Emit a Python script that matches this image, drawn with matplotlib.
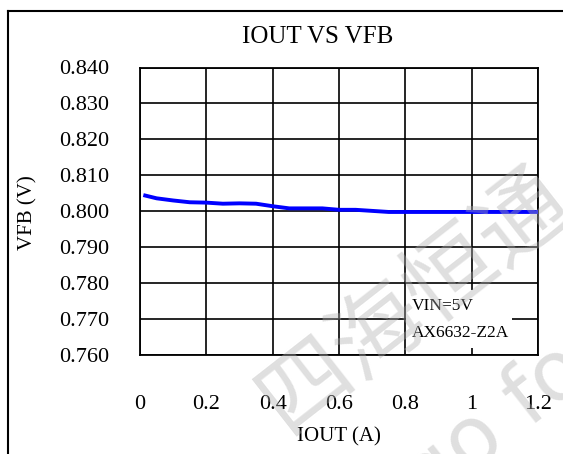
import matplotlib
matplotlib.use("Agg")
import matplotlib.pyplot as plt
from matplotlib.patches import Rectangle
from matplotlib.lines import Line2D

# data
iout = [0.01, 0.05, 0.10, 0.15, 0.20, 0.25, 0.30, 0.35, 0.40, 0.45, 0.50,
        0.55, 0.60, 0.65, 0.70, 0.75, 0.80, 0.90, 1.00, 1.10, 1.20]
vfb = [0.8045, 0.8036, 0.8030, 0.8025, 0.8024, 0.8021, 0.8022, 0.8021, 0.8014,
       0.8008, 0.8008, 0.8008, 0.8004, 0.8004, 0.8001, 0.7998, 0.7998, 0.7998,
       0.7998, 0.7998, 0.7998]
xticks = [0, 0.2, 0.4, 0.6, 0.8, 1.0, 1.2]
xtick_labels = ["0", "0.2", "0.4", "0.6", "0.8", "1", "1.2"]
yticks = [0.760, 0.770, 0.780, 0.790, 0.800, 0.810, 0.820, 0.830, 0.840]

plt.rcParams['font.family'] = ['Liberation Serif', 'DejaVu Serif']

W, H = 563, 454
fig = plt.figure(figsize=(W / 100, H / 100), dpi=100)
ax = fig.add_axes([140 / W, 1 - 355 / H, 398 / W, 287.5 / H])

ax.plot(iout, vfb, color='#0000ff', lw=2.8, zorder=3, solid_capstyle='butt')

ax.set_xlim(0, 1.2)
ax.set_ylim(0.760, 0.840)
ax.set_xticks(xticks)
ax.set_xticklabels(xtick_labels)
ax.set_yticks(yticks)
ax.set_yticklabels([f"{v:.3f}" for v in yticks])
ax.tick_params(axis='both', length=0, labelsize=16)
ax.tick_params(axis='x', pad=29)
ax.tick_params(axis='y', pad=22)
ax.grid(True, color='black', lw=1.2)
ax.set_axisbelow(True)
for s in ax.spines.values():
    s.set_linewidth(1.3)

# annotation box covering the grid
ax.add_patch(Rectangle((0.668, 0.024), 0.267, 0.202, transform=ax.transAxes,
                       facecolor='white', edgecolor='none', zorder=2))
ax.text(0.683, 0.172, "VIN=5V", transform=ax.transAxes, fontsize=12.5,
        va='center', ha='left', zorder=4)
ax.text(0.683, 0.075, "AX6632-Z2A", transform=ax.transAxes, fontsize=12.5,
        va='center', ha='left', zorder=4)

fig.text(318 / W, 1 - 37 / H, "IOUT VS VFB", fontsize=18, ha='center', va='center')
fig.text(339 / W, 1 - 437 / H, "IOUT (A)", fontsize=15, ha='center', va='center')
fig.text(28 / W, 1 - 213 / H, "VFB (V)", fontsize=15, ha='center', va='center',
         rotation=90)

# outer frame (left and top edges only visible)
fig.add_artist(Line2D([8 / W, 8 / W], [0, 1 - 11 / H], transform=fig.transFigure,
                      color='black', lw=1.5))
fig.add_artist(Line2D([8 / W, 1], [1 - 11 / H, 1 - 11 / H], transform=fig.transFigure,
                      color='black', lw=1.5))

# faint watermark, cut by the edges as in the reference
fig.text(415 / W, 1 - 300 / H, "四海恒通", fontsize=66, rotation=38,
         ha='center', va='center', color='#b0b0b0', alpha=0.4,
         family=['Noto Sans CJK SC', 'DejaVu Sans'], zorder=10)
fig.text(495 / W, 1 - 425 / H, "go fo", fontsize=60, rotation=38,
         ha='center', va='center', color='#b0b0b0', alpha=0.4,
         family=['DejaVu Sans'], zorder=10)

fig.savefig("out.png", dpi=100)
